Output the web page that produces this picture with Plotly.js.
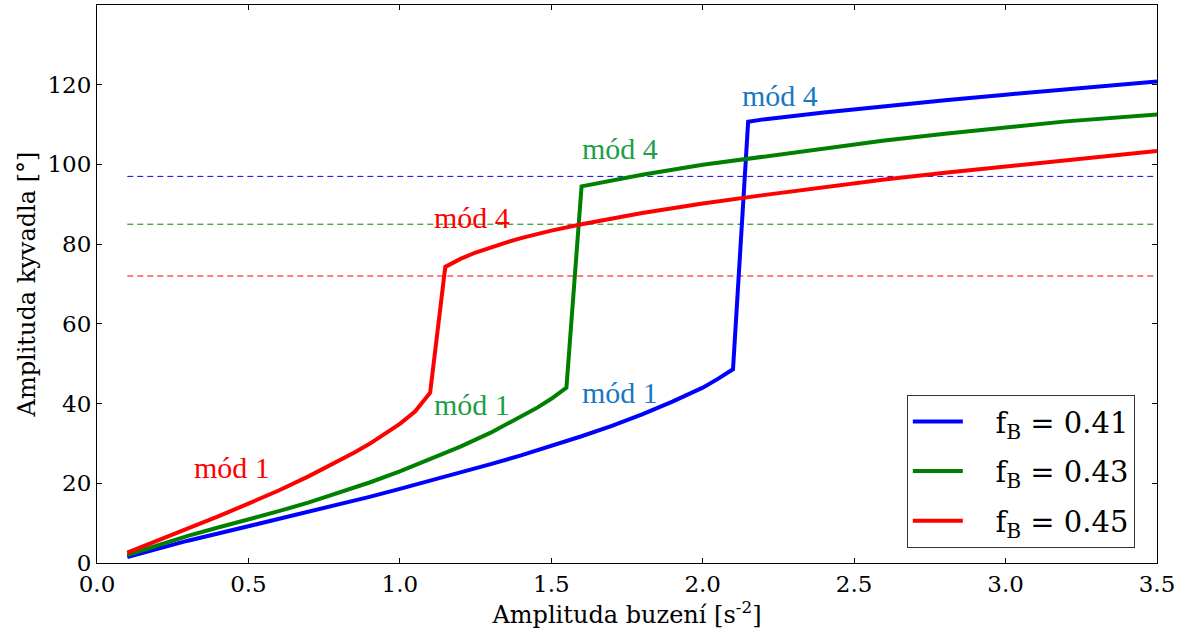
<!DOCTYPE html>
<html>
<head>
<meta charset="utf-8">
<script src="https://cdn.plot.ly/plotly-3.0.1.min.js"></script>
<style>
  html, body { margin: 0; padding: 0; background: #fff; }
  #chart { width: 1189px; height: 632px; }
</style>
</head>
<body>
<div id="chart"></div>
<script>
// Pendulum amplitude vs. excitation amplitude for three forcing frequencies f_B.
// Each curve runs along mode 1, jumps, then continues along mode 4.

// f_B = 0.41
const x041 = [0.1, 0.2, 0.3, 0.4, 0.5, 0.6, 0.7, 0.8, 0.9, 1.0, 1.1, 1.2, 1.3, 1.4, 1.5, 1.6, 1.7, 1.8, 1.9, 1.95, 2.0, 2.05, 2.1,
              2.15, 2.2, 2.4, 2.6, 2.8, 3.0, 3.2, 3.5];
const y041 = [1.5, 3.6, 5.6, 7.4, 9.2, 11.0, 12.8, 14.7, 16.6, 18.6, 20.6, 22.7, 24.8, 27.0, 29.3, 31.8, 34.4, 37.3, 40.5, 42.2, 44.0, 46.2, 48.6,
              110.7, 111.3, 113.0, 114.6, 116.1, 117.5, 118.8, 120.8];

// f_B = 0.43
const x043 = [0.1, 0.2, 0.3, 0.4, 0.5, 0.6, 0.7, 0.8, 0.9, 1.0, 1.1, 1.2, 1.3, 1.4, 1.45, 1.5, 1.55,
              1.6, 1.7, 1.8, 2.0, 2.2, 2.4, 2.6, 2.8, 3.0, 3.2, 3.5];
const y043 = [2.0, 4.5, 6.8, 8.9, 10.9, 13.0, 15.2, 17.6, 20.2, 23.0, 26.0, 29.2, 32.7, 36.6, 38.8, 41.2, 44.0,
              94.5, 96.0, 97.4, 99.9, 102.0, 104.1, 106.0, 107.7, 109.3, 110.8, 112.5];

// f_B = 0.45
const x045 = [0.1, 0.2, 0.3, 0.4, 0.5, 0.6, 0.7, 0.8, 0.85, 0.9, 0.95, 1.0, 1.05, 1.1,
              1.15, 1.2, 1.25, 1.3, 1.35, 1.4, 1.5, 1.6, 1.7, 1.8, 1.9, 2.0, 2.2, 2.4, 2.6, 2.8, 3.0, 3.2, 3.5];
const y045 = [2.6, 5.6, 8.6, 11.7, 14.9, 18.2, 21.8, 25.6, 27.7, 29.9, 32.3, 34.9, 38.0, 42.7,
              74.3, 76.3, 77.9, 79.2, 80.4, 81.5, 83.4, 85.0, 86.5, 87.8, 89.0, 90.2, 92.3, 94.3, 96.2, 97.9, 99.5, 101.0, 103.4];

// Horizontal reference levels (one per f_B), spanning the excitation range
const levelX = [0.1, 3.5];
const levels = [97, 85, 72];

const seriesNames = ['f<sub>B</sub> = 0.41', 'f<sub>B</sub> = 0.43', 'f<sub>B</sub> = 0.45'];
const lineColors = ['#0000ff', '#008000', '#ff0000'];
const labelColors = ['#1a78c2', '#1f9e4a', '#ff0000'];

// Mode labels: [x, y, text, series index]
const modeLabels = [
  [0.314, 24.0, 'mód 1', 2],
  [1.105, 39.8, 'mód 1', 1],
  [1.595, 42.8, 'mód 1', 0],
  [1.105, 86.6, 'mód 4', 2],
  [1.595, 104.0, 'mód 4', 1],
  [2.123, 117.3, 'mód 4', 0]
];

const xTicks = [0, 0.5, 1.0, 1.5, 2.0, 2.5, 3.0, 3.5];
const yTicks = [0, 20, 40, 60, 80, 100, 120];

const curveX = [x041, x043, x045];
const curveY = [y041, y043, y045];

const traces = [];
levels.forEach((lv, i) => {
  traces.push({
    x: levelX, y: [lv, lv], mode: 'lines', showlegend: false, hoverinfo: 'skip',
    line: { color: lineColors[i], width: 1, dash: '6px,4px' }
  });
});
curveX.forEach((xs, i) => {
  traces.push({
    x: xs, y: curveY[i], mode: 'lines', name: '&nbsp;&nbsp;&nbsp;' + seriesNames[i], legendgroup: 'g' + i,
    line: { color: lineColors[i], width: 4 }
  });
});

const serif = 'DejaVu Serif, serif';
const axisCommon = {
  showgrid: false, zeroline: false, showline: true, linecolor: '#000', linewidth: 1,
  mirror: 'ticks', ticks: 'inside', ticklen: 5, tickcolor: '#000', tickwidth: 1,
  tickfont: { family: serif, size: 23, color: '#000' }
};

const layout = {
  width: 1189, height: 632,
  margin: { l: 97, r: 32, t: 5, b: 69 },
  paper_bgcolor: '#fff', plot_bgcolor: '#fff',
  xaxis: Object.assign({}, axisCommon, {
    range: [0, 3.5], tickvals: xTicks, tickformat: '.1f',
    title: { text: 'Amplituda buzení [s<sup>-2</sup>]', font: { family: serif, size: 24, color: '#000' }, standoff: 8 }
  }),
  yaxis: Object.assign({}, axisCommon, {
    range: [0, 140], tickvals: yTicks,
    title: { text: 'Amplituda kyvadla [°]', font: { family: serif, size: 24, color: '#000' }, standoff: 5 }
  }),
  legend: {
    x: 0.764, y: 0.301, xanchor: 'left', yanchor: 'top',
    bgcolor: '#fff', bordercolor: '#333', borderwidth: 1,
    font: { family: serif, size: 29, color: '#000' },
    itemwidth: 50, tracegroupgap: 9
  },
  annotations: modeLabels.map(m => ({
    x: m[0], y: m[1], xref: 'x', yref: 'y', text: m[2], showarrow: false,
    xanchor: 'left', yanchor: 'middle',
    font: { family: 'Liberation Serif, serif', size: 30, color: labelColors[m[3]] }
  }))
};

Plotly.newPlot('chart', traces, layout, { displayModeBar: false, staticPlot: true });
</script>
</body>
</html>
